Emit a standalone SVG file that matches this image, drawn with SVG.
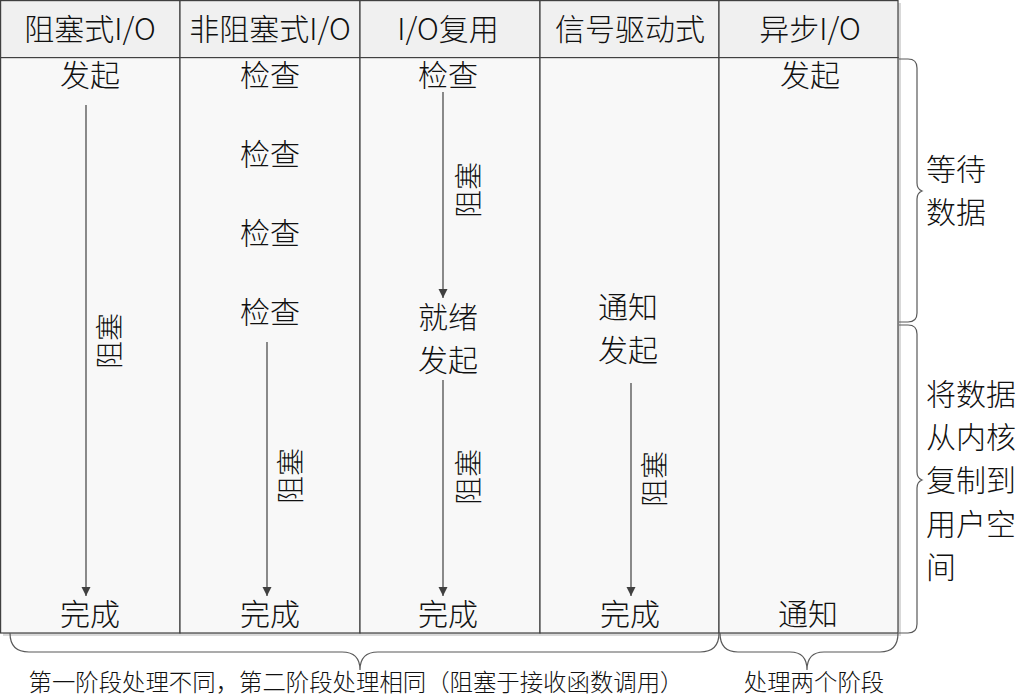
<svg xmlns="http://www.w3.org/2000/svg" width="1022" height="699" viewBox="0 0 1022 699">
<style>
.t{font-family:"Noto Sans CJK SC","Noto Sans",sans-serif;font-weight:300;font-size:30px;fill:#111;text-anchor:middle}
.r{font-size:28px}
.s{font-family:"Noto Sans CJK SC","Noto Sans",sans-serif;font-weight:300;font-size:23.4px;fill:#111;text-anchor:middle}
.l{font-family:"Noto Sans CJK SC","Noto Sans",sans-serif;font-weight:300;font-size:30px;fill:#111}
.hd{fill:#f0f0f0;stroke:#404040;stroke-width:1.2}
.bd{fill:#f8f8f8;stroke:#404040;stroke-width:1.2}
.arr{stroke:#404040;stroke-width:1.2;fill:none;marker-end:url(#ah)}
.br{stroke:#595959;stroke-width:1.2;fill:none}
</style>
<defs>
<marker id="ah" viewBox="0 0 10 10" refX="10" refY="5" markerUnits="userSpaceOnUse" markerWidth="9" markerHeight="10" orient="auto">
<path d="M0,0 L10,5 L0,10 z" fill="#404040"/>
</marker>
</defs>
<rect width="1022" height="699" fill="#ffffff"/>
<rect x="3" y="3" width="898" height="633" fill="#d9d9d9"/>
<g id="col1">
<rect class="hd" x="0.6" y="0.6" width="179.4" height="57"/>
<rect class="bd" x="0.6" y="57.6" width="179.4" height="575.4"/>
<text class="t" x="90" y="40">阻塞式I/O</text>
<text class="t" x="90" y="86">发起</text>
<text class="t" x="90" y="625">完成</text>
<text class="t r" transform="translate(110,341) rotate(-90)" x="0" y="10">阻塞</text>
</g>
<g id="col2">
<rect class="hd" x="180" y="0.6" width="180" height="57"/>
<rect class="bd" x="180" y="57.6" width="180" height="575.4"/>
<text class="t" x="270" y="40">非阻塞式I/O</text>
<text class="t" x="270" y="86">检查</text>
<text class="t" x="270" y="165">检查</text>
<text class="t" x="270" y="244">检查</text>
<text class="t" x="270" y="323">检查</text>
<text class="t" x="270" y="625">完成</text>
<text class="t r" transform="translate(291,476) rotate(-90)" x="0" y="10">阻塞</text>
</g>
<g id="col3">
<rect class="hd" x="360" y="0.6" width="180" height="57"/>
<rect class="bd" x="360" y="57.6" width="180" height="575.4"/>
<text class="t" x="448" y="40">I/O复用</text>
<text class="t" x="448" y="86">检查</text>
<text class="t" x="448" y="328">就绪</text>
<text class="t" x="448" y="371">发起</text>
<text class="t" x="448" y="625">完成</text>
<text class="t r" transform="translate(469,190) rotate(-90)" x="0" y="10">阻塞</text>
<text class="t r" transform="translate(469,477) rotate(-90)" x="0" y="10">阻塞</text>
</g>
<g id="col4">
<rect class="hd" x="540" y="0.6" width="179" height="57"/>
<rect class="bd" x="540" y="57.6" width="179" height="575.4"/>
<text class="t" x="630" y="40">信号驱动式</text>
<text class="t" x="628" y="318">通知</text>
<text class="t" x="628" y="361">发起</text>
<text class="t" x="630" y="625">完成</text>
<text class="t r" transform="translate(655,479) rotate(-90)" x="0" y="10">阻塞</text>
</g>
<g id="col5">
<rect class="hd" x="719" y="0.6" width="179" height="57"/>
<rect class="bd" x="719" y="57.6" width="179" height="575.4"/>
<text class="t" x="810" y="40">异步I/O</text>
<text class="t" x="810" y="86">发起</text>
<text class="t" x="808" y="625">通知</text>
</g>
<g id="connectors">
<line class="arr" x1="86" y1="105" x2="86" y2="596"/>
<line class="arr" x1="267" y1="342" x2="267" y2="596"/>
<line class="arr" x1="443" y1="92" x2="443" y2="298"/>
<line class="arr" x1="443" y1="380" x2="443" y2="596"/>
<line class="arr" x1="631" y1="383" x2="631" y2="596"/>
</g>
<g id="brace-wait">
<path class="br" d="M899,59 L908,59 Q917,59 917,68 L917,183 Q917,189 922,191 Q917,193 917,199 L917,313 Q917,322 908,322 L899,322"/>
<text class="l" x="926" y="180">等待</text>
<text class="l" x="926" y="223">数据</text>
</g>
<g id="brace-copy">
<path class="br" d="M899,325 L908,325 Q917,325 917,334 L917,472 Q917,478 922,480 Q917,482 917,488 L917,624 Q917,633 908,633 L899,633"/>
<text class="l" x="926" y="405">将数据</text>
<text class="l" x="926" y="448">从内核</text>
<text class="l" x="926" y="491">复制到</text>
<text class="l" x="926" y="535">用户空</text>
<text class="l" x="926" y="578">间</text>
</g>
<g id="brace-first">
<path class="br" d="M10,633 Q10,652 29,652 L342,652 Q360,652 360,670 Q360,652 378,652 L700,652 Q719,652 719,633"/>
<text class="s" x="356" y="691">第一阶段处理不同，第二阶段处理相同（阻塞于接收函数调用）</text>
</g>
<g id="brace-second">
<path class="br" d="M720,633 Q720,652 738,652 L790,652 Q807,652 807,670 Q807,652 824,652 L880,652 Q898,652 898,633"/>
<text class="s" x="814" y="691">处理两个阶段</text>
</g>
</svg>
